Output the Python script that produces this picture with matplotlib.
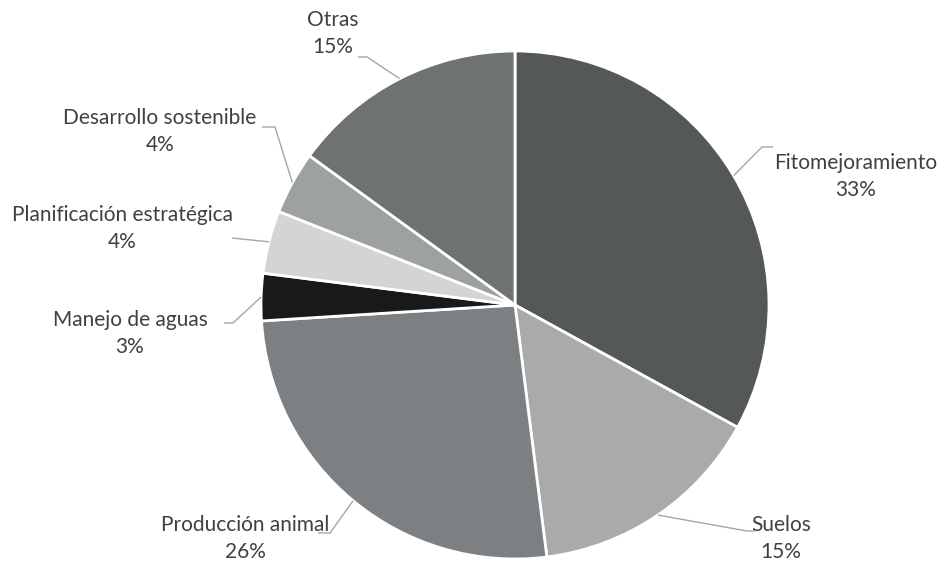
import numpy as np
import matplotlib
matplotlib.use("Agg")
import matplotlib.pyplot as plt

categories = ["Fitomejoramiento", "Suelos", "Producción animal", "Manejo de aguas",
              "Planificación estratégica", "Desarrollo sostenible", "Otras"]
values = [33, 15, 26, 3, 4, 4, 15]
pct_labels = ["33%", "15%", "26%", "3%", "4%", "4%", "15%"]
colors = ["#555859", "#A9ABAA", "#7D8083", "#17191B", "#D4D4D4", "#9DA1A1", "#6F7273"]

W, H = 945, 563
fig = plt.figure(figsize=(W / 100, H / 100), dpi=100)
ax = fig.add_axes([0, 0, 1, 1])

cx, cy, r = 515, H - 305, 254
wedges, _ = ax.pie(values, colors=colors, startangle=90, counterclock=False,
                   center=(cx, cy), radius=r, frame=True,
                   wedgeprops=dict(edgecolor="white", linewidth=2.0))
ax.set_xlim(0, W)
ax.set_ylim(0, H)
ax.set_aspect("equal")
ax.axis("off")

# label layout: (text center x, first-line center y in px from top), leader elbow points (px from top)
layout = {
    0: dict(xy=(856, 163), elbow=[(762, 147), (773, 147)]),
    1: dict(xy=(781, 525), elbow=[(747, 531), (755, 531)]),
    2: dict(xy=(245, 525), elbow=[(330, 533), (318, 533)]),
    3: dict(xy=(130, 320), elbow=[(233, 323), (224, 323)]),
    4: dict(xy=(122, 215), elbow=[(232, 238)]),
    5: dict(xy=(160, 118), elbow=[(275, 127), (262, 127)]),
    6: dict(xy=(333, 20), elbow=[(367, 57), (358, 57)]),
}

txt_color = "#404040"
line_color = "#A6A6A6"
fs = 15
for i, w in enumerate(wedges):
    mid = np.deg2rad((w.theta1 + w.theta2) / 2)
    ax_x = cx + r * np.cos(mid)
    ax_y = cy + r * np.sin(mid)
    L = layout[i]
    xs = [ax_x] + [p[0] for p in L["elbow"]]
    ys = [ax_y] + [H - p[1] for p in L["elbow"]]
    ax.plot(xs, ys, color=line_color, lw=1.0, solid_capstyle="butt")
    tx, ty = L["xy"]
    ax.text(tx, H - ty, categories[i], ha="center", va="center",
            fontsize=fs, family="Lato", color=txt_color)
    ax.text(tx, H - ty - 27, pct_labels[i], ha="center", va="center",
            fontsize=fs, family="Lato", color=txt_color)

fig.savefig("out.png", dpi=100, facecolor="white")
